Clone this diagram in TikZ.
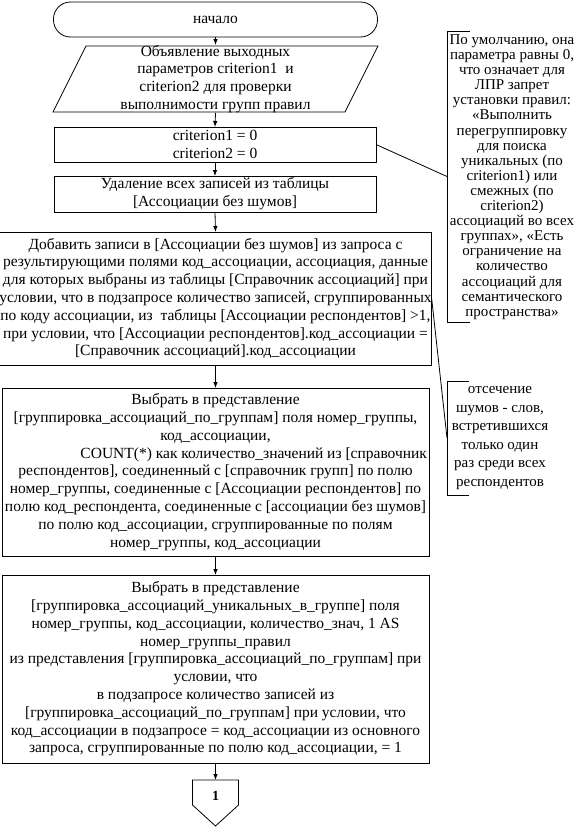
\documentclass[tikz,border=0pt]{standalone}
\usepackage{fontspec}
\setmainfont{Liberation Serif}
\usetikzlibrary{arrows.meta}
\begin{document}
\begin{tikzpicture}[x=1pt,y=-1pt,
  every node/.style={inner sep=0pt, outer sep=0pt},
  mainfont/.style={font=\fontsize{15.5}{17.8}\selectfont},
  box/.style={draw, line width=0.8pt, align=center, mainfont},
  txt/.style={align=center, mainfont},
  arr/.style={line width=0.8pt, -{Latex[length=6pt,width=4.5pt]}},
  ln/.style={line width=0.8pt},
]
\fill[white] (0,0) rectangle (578,827);
\useasboundingbox (0,0) rectangle (578,827);

\node[box, rounded corners=17pt, minimum width=324pt, minimum height=35pt] (start) at (215.5,19.5) {начало};

\node[txt, minimum width=325pt, minimum height=66pt] (decl) at (215.5,79) {Объявление выходных\\параметров criterion1\ \ и\\criterion2 для проверки\\выполнимости групп правил};
\draw[ln] (53,112) -- (86,46) -- (378,46) -- (345,112) -- cycle;

\node[box, minimum width=322pt, minimum height=35pt] (crit) at (215,144.5) {criterion1 = 0\\criterion2 = 0};

\node[box, minimum width=322pt, minimum height=36pt] (del) at (215,194) {Удаление всех записей из таблицы\\{[}Ассоциации без шумов]};

\node[box, minimum width=427pt, minimum height=133pt] (add) at (215.5,298.5) {Добавить записи в [Ассоциации без шумов] из запроса с\\результирующими полями код\_ассоциации, ассоциация, данные\\для которых выбраны из таблицы [Справочник ассоциаций] при\\условии, что в подзапросе количество записей, сгруппированных\\по коду ассоциации, из\ \ таблицы [Ассоциации респондентов] >1,\\при условии, что [Ассоциации респондентов].код\_ассоциации =\\{[}Справочник ассоциаций].код\_ассоциации};

\node[box, minimum width=427pt, minimum height=168pt] (sel1) at (215.5,472) {Выбрать в представление\\{[}группировка\_ассоциаций\_по\_группам] поля номер\_группы,\\код\_ассоциации,\\\makebox[423pt][r]{COUNT(*) как количество\_значений из [справочник}\\респондентов], соединенный с [справочник групп] по полю\\номер\_группы, соединенные с [Ассоциации респондентов] по\\полю код\_респондента, соединенные с [ассоциации без шумов]\\по полю код\_ассоциации, сгруппированные по полям\\номер\_группы, код\_ассоциации};

\node[box, minimum width=427pt, minimum height=188pt] (sel2) at (215.5,669) {Выбрать в представление\\{[}группировка\_ассоциаций\_уникальных\_в\_группе] поля\\номер\_группы, код\_ассоциации, количество\_знач, 1 AS\\номер\_группы\_правил\\из представления [группировка\_ассоциаций\_по\_группам] при\\условии, что\\в подзапросе количество записей из\\{[}группировка\_ассоциаций\_по\_группам] при условии, что\\код\_ассоциации в подзапросе = код\_ассоциации из основного\\запроса, сгруппированные по полю код\_ассоциации, = 1};

\node[minimum width=46pt, minimum height=46pt] (pent) at (215.5,803) {};
\node[font=\bfseries\fontsize{14}{14}\selectfont] (pentlabel) at (215.5,796) {1};
\draw[ln] (192.5,780) -- (238.5,780) -- (238.5,805) -- (215.5,826) -- (192.5,805) -- cycle;

\draw[arr] (start.south) -- (decl.north);
\draw[arr] (decl.south) -- (crit.north);
\draw[arr] (crit.south) -- (del.north);
\draw[arr] (del.south) -- (add.north);
\draw[arr] (add.south) -- (sel1.north);
\draw[arr] (sel1.south) -- (sel2.north);
\draw[arr] (sel2.south) -- (pent.north);

% annotation 1
\node[align=center, font=\fontsize{15}{15.1}\selectfont] (note1) at (512,177) {По умолчанию, она\\параметра равны 0,\\что означает для\\ЛПР запрет\\установки правил:\\«Выполнить\\перегруппировку\\для поиска\\уникальных (по\\criterion1) или\\смежных (по\\criterion2)\\ассоциаций во всех\\группах», «Есть\\ограничение на\\количество\\ассоциаций для\\семантического\\пространства»};
\coordinate (n1) at (447,176.5);
\draw[ln] (470,31) -- (447,31) -- (447,322) -- (470,322);
\draw[ln] (crit.east) -- (n1);

% annotation 2
\node[align=center, font=\fontsize{15}{18.5}\selectfont] (note2) at (500,438) {отсечение\\шумов - слов,\\встретившихся\\только один\\раз среди всех\\респондентов};
\coordinate (n2) at (447,438);
\draw[ln] (469,381) -- (447,381) -- (447,495) -- (469,495);
\draw[ln] (add.east) -- (n2);
\end{tikzpicture}
\end{document}
